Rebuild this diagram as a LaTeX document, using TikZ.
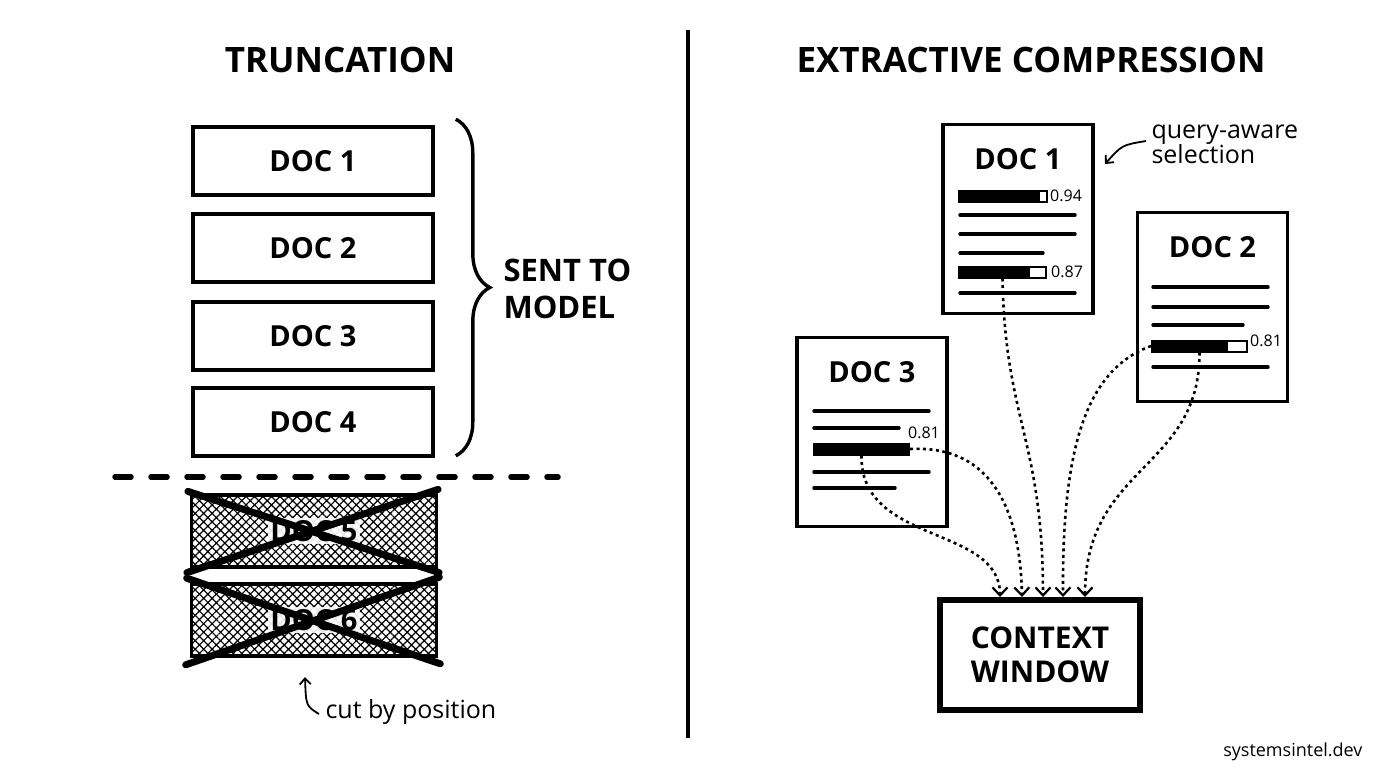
\documentclass[tikz,border=0pt]{standalone}
\usepackage{fontspec}
\setmainfont{Open Sans}
\usetikzlibrary{arrows.meta, positioning, calc, patterns.meta, decorations.pathreplacing}
\tikzstyle{title} = [font=\bfseries\fontsize{35}{40}\selectfont]
\tikzstyle{docbox} = [rectangle, draw=black, line width=3.6pt, minimum width=240pt, minimum height=68pt, font=\bfseries\fontsize{29}{34}\selectfont]
\tikzstyle{cutbox} = [rectangle, draw=black, line width=3.6pt, minimum width=245pt, minimum height=72pt, pattern={Hatch[angle=45,distance=6pt,line width=1.2pt]}]
\tikzstyle{cutlbl} = [fill=white, fill opacity=0.9, text opacity=1, inner sep=2pt, font=\bfseries\fontsize{29}{34}\selectfont]
\tikzstyle{cross} = [line width=7pt, line cap=round]
\tikzstyle{page} = [rectangle, draw=black, line width=3.6pt, minimum width=150pt, minimum height=189pt]
\tikzstyle{pagelbl} = [font=\bfseries\fontsize{29}{34}\selectfont]
\tikzstyle{txtline} = [line width=3.4pt, line cap=round]
\tikzstyle{score} = [font=\fontsize{16}{18}\selectfont, inner sep=1pt]
\tikzstyle{flow} = [line width=2.6pt, dash pattern=on 3pt off 3.5pt, -{Straight Barb[length=8pt,width=15pt,line width=2.2pt]}]
\tikzstyle{note} = [line width=1.8pt, -{Straight Barb[length=6pt,width=11pt]}]
\tikzset{scorebar/.style={draw=black, line width=2pt, minimum height=11pt, inner sep=0pt,
  path picture={\fill (path picture bounding box.north west) rectangle ([xshift=-#1]path picture bounding box.south east);}}}

\begin{document}
\begin{tikzpicture}[x=1pt, y=-1pt]

\useasboundingbox [fill=white] (0,0) rectangle (1376,768);

% truncation side
\node (ttrunc) [title] at (340,60) {TRUNCATION};
\node (d1) [docbox] at (313,161) {DOC 1};
\node (d2) [docbox] at (313,248) {DOC 2};
\node (d3) [docbox] at (313,336) {DOC 3};
\node (d4) [docbox] at (313,422) {DOC 4};
\draw [line width=3.4pt, decorate, decoration={brace, amplitude=34pt}] (d1.north east) ++(21,-6) coordinate (bt) -- ($(d4.south east)+(21,-2)$) coordinate (bb);
\node (sent) [anchor=west, align=left, font=\bfseries\fontsize{31}{37}\selectfont] at (500,289) {SENT TO\\MODEL};

\coordinate (cutl) at (115,477);
\coordinate (cutr) at (558,477);
\draw [line width=5.5pt, line cap=round, dash pattern=on 16pt off 20pt] (cutl) -- (cutr);

\node (d5) [cutbox] at (314,531) {};
\node (d5t) [cutlbl] at (d5) {DOC 5};
\draw [cross] ($(d5.north west)+(-3,-3)$) -- ($(d5.south east)+(2,5)$);
\draw [cross] ($(d5.south west)+(-4,5)$) -- ($(d5.north east)+(1,-5)$);
\node (d6) [cutbox] at (314,620) {};
\node (d6t) [cutlbl] at (d6) {DOC 6};
\draw [cross] ($(d6.north west)+(-3,-4)$) -- ($(d6.south east)+(2,6)$);
\draw [cross] ($(d6.south west)+(-4,7)$) -- ($(d6.north east)+(1,-5)$);

\coordinate (ctip) at (305,677);
\node (cuttxt) [anchor=west, font=\fontsize{25}{28}\selectfont] at (322,712) {cut by position};
\draw [note] ($(cuttxt.west)+(-3,2)$) .. controls (306,706) .. (ctip);

% divider
\coordinate (divt) at (688,30);
\coordinate (divb) at (688,738);
\draw [line width=3.4pt] (divt) -- (divb);

% extractive side
\node (textr) [title] at (1031,60) {EXTRACTIVE COMPRESSION};

\node (p1) [page] at (1018,219) {};
\node (p1t) [pagelbl] at ($(p1.north)+(0,36)$) {DOC 1};
\node (b11) [scorebar=7pt, minimum width=88pt] at (1003,196) {};
\node (s11) [score, anchor=west] at ($(b11.east)+(1,0)$) {0.94};
\draw [txtline] (960,215) -- (1075,215);
\draw [txtline] (960,234) -- (1075,234);
\draw [txtline] (960,253) -- (1043,253);
\node (b12) [scorebar=16pt, minimum width=87pt] at (1002.5,272) {};
\node (s12) [score, anchor=west] at ($(b12.east)+(3,0)$) {0.87};
\draw [txtline] (960,293) -- (1075,293);

\node (p2) [page] at (1212.5,307) {};
\node (p2t) [pagelbl] at ($(p2.north)+(0,36)$) {DOC 2};
\draw [txtline] (1153,287) -- (1268,287);
\draw [txtline] (1153,307) -- (1268,307);
\draw [txtline] (1153,325) -- (1243,325);
\node (b21) [scorebar=19pt, minimum width=95pt] at (1199.5,346) {};
\node (s21) [score, anchor=south west] at ($(b21.east)+(1,2)$) {0.81};
\draw [txtline] (1153,367) -- (1268,367);

\node (p3) [page] at (872,432) {};
\node (p3t) [pagelbl] at ($(p3.north)+(0,36)$) {DOC 3};
\draw [txtline] (814,411) -- (929,411);
\draw [txtline] (814,428) -- (899,428);
\node (b31) [scorebar=0pt, minimum width=95pt] at (861.5,449) {};
\node (s31) [score, anchor=south] at ($(b31.north east)+(14,-3)$) {0.81};
\draw [txtline] (814,472) -- (929,472);
\draw [txtline] (814,488) -- (895,488);

\node (ctx) [rectangle, draw=black, line width=6pt, minimum width=200pt, minimum height=110pt, align=center, font=\bfseries\fontsize{30}{34}\selectfont] at (1040,655) {CONTEXT\\WINDOW};

\node (qsel) [anchor=west, align=left, font=\fontsize{25}{25}\selectfont] at (1148,144) {query-aware\\selection};
\coordinate (qtip) at (1105,164);
\draw [note] ($(qsel.west)+(-2,-3)$) .. controls (1122,145) .. (qtip);

\draw [flow] (b31.south) .. controls (860,545) and (1000,525) .. ([xshift=-40pt]ctx.north);
\draw [flow] (b31.east) .. controls (985,445) and (1020,500) .. ([xshift=-18pt]ctx.north);
\draw [flow] (b12.south) .. controls (1005,420) and (1043,440) .. ([xshift=3pt]ctx.north);
\draw [flow] (b21.west) .. controls (1085,370) and (1062,450) .. ([xshift=23pt]ctx.north);
\draw [flow] (b21.south) .. controls (1200,470) and (1085,465) .. ([xshift=45pt]ctx.north);

\node (site) [anchor=east, font=\fontsize{18}{22}\selectfont] at (1366,752) {systemsintel.dev};

\end{tikzpicture}
\end{document}
